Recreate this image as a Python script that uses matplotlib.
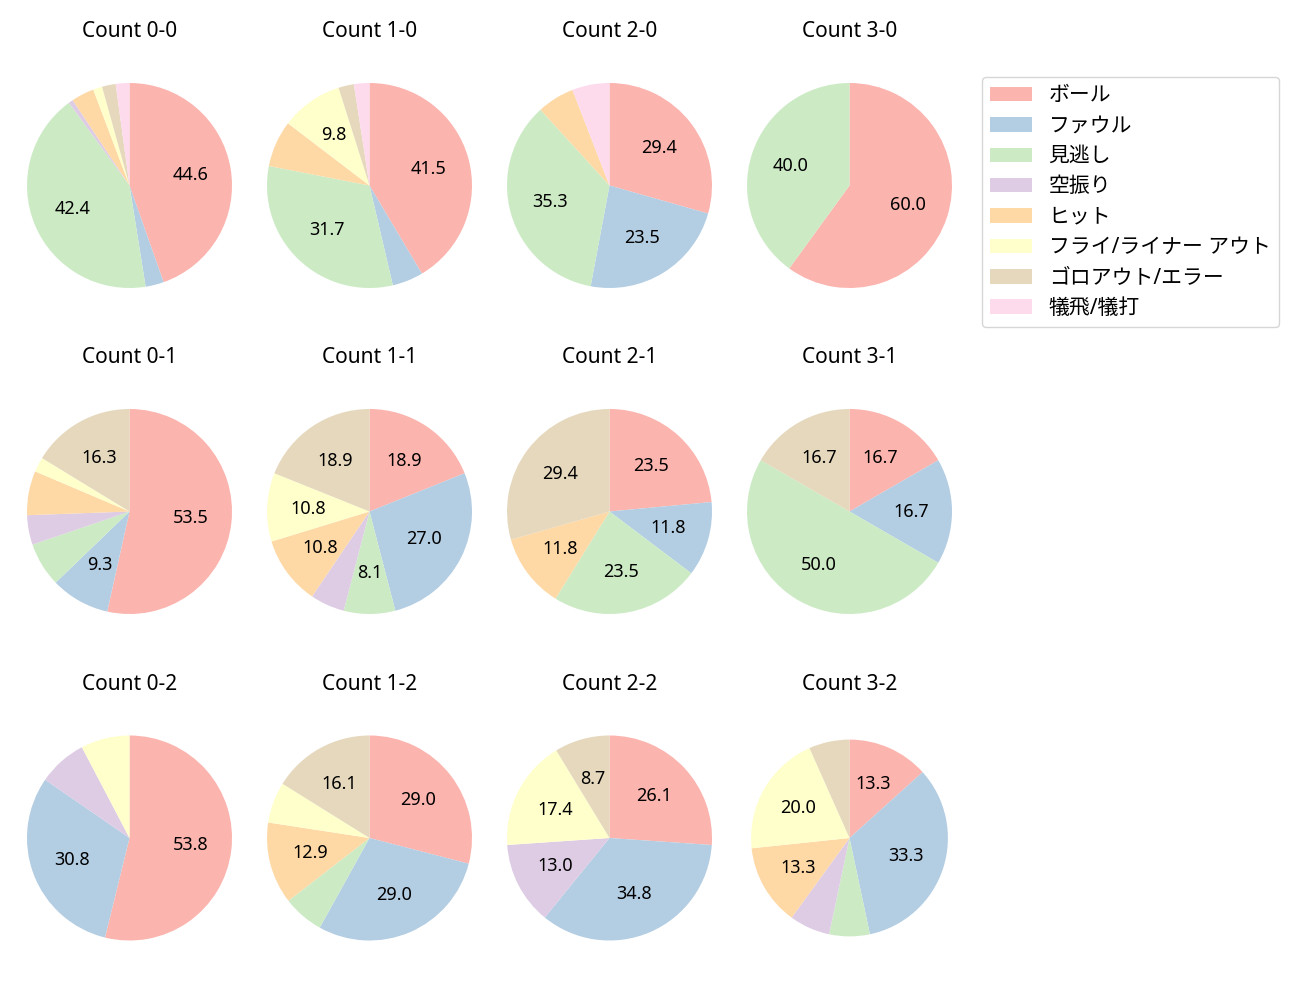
import matplotlib
matplotlib.use("Agg")
import matplotlib.pyplot as plt
from matplotlib.patches import Patch

plt.rcParams['font.family'] = ['Noto Sans', 'Noto Sans CJK JP', 'DejaVu Sans']

categories = ['ボール', 'ファウル', '見逃し', '空振り', 'ヒット',
              'フライ/ライナー アウト', 'ゴロアウト/エラー', '犠飛/犠打']
colors = ['#fbb4ae', '#b3cde3', '#ccebc5', '#decbe4', '#fed9a6',
          '#ffffcc', '#e5d8bd', '#fddaec']

# counts per pitch-count situation (balls-strikes), in category order
count_0_0 = [62, 4, 59, 1, 5, 2, 3, 3]
count_1_0 = [17, 2, 13, 0, 3, 4, 1, 1]
count_2_0 = [5, 4, 6, 0, 1, 0, 0, 1]
count_3_0 = [3, 0, 2, 0, 0, 0, 0, 0]
count_0_1 = [23, 4, 3, 2, 3, 1, 7, 0]
count_1_1 = [7, 10, 3, 2, 4, 4, 7, 0]
count_2_1 = [4, 2, 4, 0, 2, 0, 5, 0]
count_3_1 = [1, 1, 3, 0, 0, 0, 1, 0]
count_0_2 = [7, 4, 0, 1, 0, 1, 0, 0]
count_1_2 = [9, 9, 2, 0, 4, 2, 5, 0]
count_2_2 = [6, 8, 0, 3, 0, 4, 2, 0]
count_3_2 = [2, 5, 1, 1, 2, 3, 1, 0]

panels = {
    (0, 0): count_0_0, (1, 0): count_1_0, (2, 0): count_2_0, (3, 0): count_3_0,
    (0, 1): count_0_1, (1, 1): count_1_1, (2, 1): count_2_1, (3, 1): count_3_1,
    (0, 2): count_0_2, (1, 2): count_1_2, (2, 2): count_2_2, (3, 2): count_3_2,
}

W, H = 1300, 1000
fig = plt.figure(figsize=(W / 100, H / 100), dpi=100)

col_cx = [129.5, 369.5, 609.5, 849.5]
row_cy = [185.5, 511.5, 838.0]
R = 102.5
side = 2.5 * R
radius_scale = {(3, 2): 0.96}

def fmt(p):
    return f'{p:.1f}' if p >= 8 else ''

for (b, s), vals in panels.items():
    cx, cy = col_cx[b], row_cy[s]
    ax = fig.add_axes([(cx - side / 2) / W, 1 - (cy + side / 2) / H, side / W, side / H])
    nz = [(v, c) for v, c in zip(vals, colors) if v > 0]
    ax.pie([v for v, _ in nz], colors=[c for _, c in nz],
           startangle=90, counterclock=False, autopct=fmt,
           pctdistance=0.6, radius=radius_scale.get((b, s), 1.0),
           textprops={'fontsize': 13})
    ax.set_xlim(-1.25, 1.25)
    ax.set_ylim(-1.25, 1.25)
    ax.set_title(f'Count {b}-{s}', fontsize=15, pad=14.4)

handles = [Patch(facecolor=c, label=l) for c, l in zip(colors, categories)]
fig.legend(handles=handles, loc='upper left',
           bbox_to_anchor=(982 / W, 1 - 77 / H), fontsize=15,
           borderaxespad=0, labelspacing=0.45)

fig.savefig('out.png', dpi=100)
